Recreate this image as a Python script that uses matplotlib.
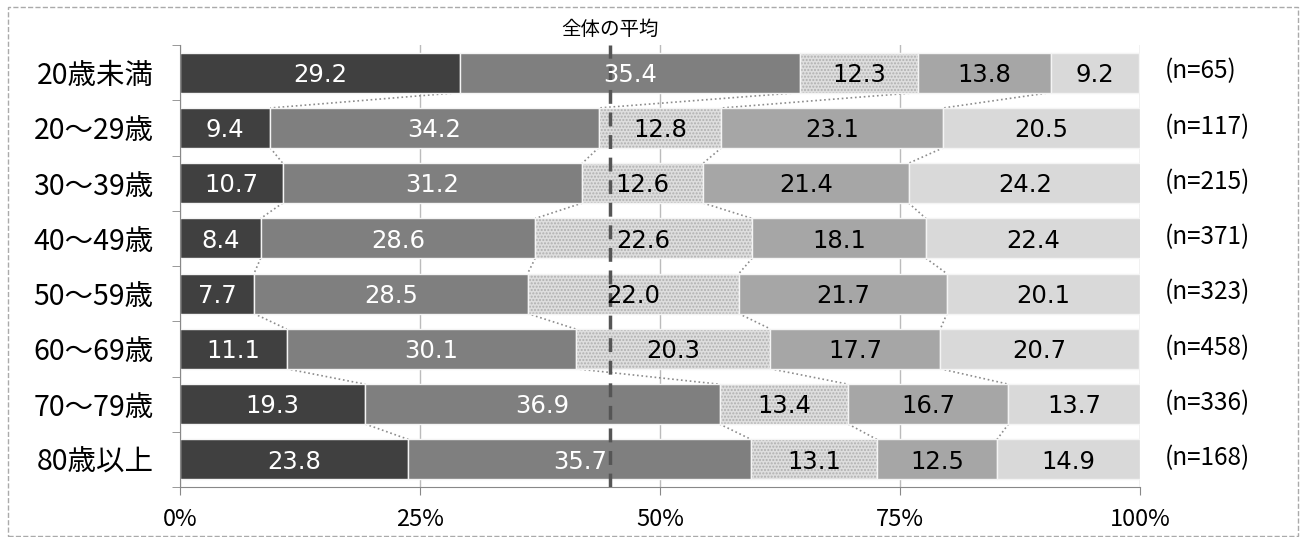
import numpy as np
import matplotlib.pyplot as plt
from matplotlib.patches import Rectangle

plt.rcParams['font.family'] = ['Noto Sans CJK JP', 'DejaVu Sans']

ages = ["20歳未満", "20～29歳", "30～39歳", "40～49歳", "50～59歳", "60～69歳", "70～79歳", "80歳以上"]
counts = ["(n=65)", "(n=117)", "(n=215)", "(n=371)", "(n=323)", "(n=458)", "(n=336)", "(n=168)"]
seg1 = [29.2, 9.4, 10.7, 8.4, 7.7, 11.1, 19.3, 23.8]
seg2 = [35.4, 34.2, 31.2, 28.6, 28.5, 30.1, 36.9, 35.7]
seg3 = [12.3, 12.8, 12.6, 22.6, 22.0, 20.3, 13.4, 13.1]
seg4 = [13.8, 23.1, 21.4, 18.1, 21.7, 17.7, 16.7, 12.5]
seg5 = [9.2, 20.5, 24.2, 22.4, 20.1, 20.7, 13.7, 14.9]
mean_line = 44.8

segs = np.array([seg1, seg2, seg3, seg4, seg5])
colors = ['#404040', '#7f7f7f', '#dedede', '#a6a6a6', '#d9d9d9']
txtcol = ['white', 'white', 'black', 'black', 'black']

fig = plt.figure(figsize=(13.05, 5.37), dpi=100)
ax = fig.add_axes([180/1305, 1-487/537, 960/1305, 442/537])

y = np.arange(len(ages))
h = 0.72
left = np.zeros(len(ages))
for k in range(5):
    if k == 2:
        ax.barh(y, segs[k], left=left, height=h, color=colors[k], hatch='.....',
                edgecolor='#b0b0b0', linewidth=0, zorder=2)
        ax.barh(y, segs[k], left=left, height=h, fill=False, edgecolor='#f4f4f4',
                linewidth=1, zorder=2)
    else:
        ax.barh(y, segs[k], left=left, height=h, color=colors[k],
                edgecolor='#f4f4f4', linewidth=1, zorder=2)
    for i in range(len(ages)):
        ax.text(left[i] + segs[k][i]/2, y[i] + 0.04, f"{segs[k][i]:.1f}", ha='center', va='center',
                fontsize=17.5, color=txtcol[k], family='DejaVu Sans', zorder=4)
    left = left + segs[k]

# series lines between bars
cum = np.cumsum(segs, axis=0)
for i in range(len(ages)-1):
    for k in range(4):
        ax.plot([cum[k][i], cum[k][i+1]], [y[i] + h/2, y[i+1] - h/2],
                color='#8c8c8c', linestyle=':', linewidth=1.2, zorder=1)

for i in range(len(ages)):
    ax.text(102.6, y[i] - 0.02, counts[i], ha='left', va='center', fontsize=17.5, clip_on=False)

ax.axvline(mean_line, color='#555555', linestyle=(0, (4, 2.5)), linewidth=2.5, zorder=3)
ax.text(mean_line, -0.6, "全体の平均", ha='center', va='bottom', fontsize=14, clip_on=False)

ax.set_xlim(0, 100)
ax.set_ylim(len(ages) - 0.5, -0.5)
ax.set_xticks([0, 25, 50, 75, 100])
ax.set_xticklabels(["0%", "25%", "50%", "75%", "100%"], fontsize=17)
ax.set_yticks(y)
ax.set_yticklabels(ages, fontsize=20.5)
ax.set_yticks(np.arange(-0.5, len(ages), 1), minor=True)
ax.tick_params(axis='y', which='major', length=0, pad=19)
ax.tick_params(axis='y', which='minor', length=6, color='#888888')
ax.tick_params(axis='x', length=6, color='#888888', pad=9)
ax.grid(axis='x', color='#bbbbbb', linewidth=1, zorder=0)
ax.set_axisbelow(True)
for s in ['top', 'right']:
    ax.spines[s].set_visible(False)
for s in ['left', 'bottom']:
    ax.spines[s].set_color('#888888')

fig.patches.append(Rectangle((8/1305, 0.002), 1290/1305, 1-8/537, transform=fig.transFigure,
                             fill=False, edgecolor='#aaaaaa', linestyle='--', linewidth=1))

fig.savefig("out.png", dpi=100)
